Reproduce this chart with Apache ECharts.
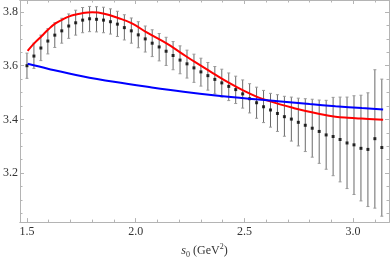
<!DOCTYPE html>
<html>
<head>
<meta charset="utf-8">
<script src="https://cdn.jsdelivr.net/npm/echarts@6/dist/echarts.min.js"></script>
<style>
html,body{margin:0;padding:0;background:#fff;}
#c{width:390px;height:264px;}
</style>
</head>
<body>
<div id="c"></div>
<script>
// ---- data ----
const sx = [1.500,1.532,1.564,1.596,1.628,1.660,1.692,1.724,1.756,1.788,1.820,1.852,1.884,1.916,1.948,1.980,2.012,2.044,2.076,2.108,2.140,2.172,2.204,2.236,2.268,2.300,2.332,2.364,2.396,2.428,2.460,2.492,2.524,2.556,2.588,2.620,2.652,2.684,2.716,2.748,2.780,2.812,2.844,2.876,2.908,2.940,2.972,3.004,3.036,3.068,3.100,3.132];
const mid = [3.600,3.636,3.666,3.692,3.714,3.730,3.748,3.760,3.770,3.775,3.773,3.770,3.764,3.755,3.742,3.730,3.715,3.700,3.684,3.670,3.654,3.638,3.621,3.607,3.592,3.577,3.563,3.549,3.536,3.523,3.511,3.495,3.477,3.462,3.447,3.435,3.422,3.410,3.401,3.389,3.378,3.367,3.355,3.342,3.336,3.325,3.312,3.305,3.292,3.288,3.328,3.295];
const hi = [3.647,3.684,3.714,3.738,3.760,3.777,3.793,3.807,3.817,3.821,3.820,3.818,3.812,3.803,3.790,3.778,3.764,3.748,3.734,3.720,3.706,3.690,3.674,3.658,3.643,3.628,3.612,3.597,3.587,3.573,3.561,3.547,3.533,3.520,3.508,3.497,3.492,3.486,3.483,3.479,3.477,3.475,3.472,3.471,3.482,3.483,3.483,3.488,3.490,3.499,3.585,3.550];
const lo = [3.553,3.590,3.619,3.644,3.668,3.684,3.702,3.714,3.723,3.727,3.726,3.723,3.718,3.709,3.696,3.684,3.667,3.651,3.634,3.618,3.601,3.585,3.570,3.554,3.538,3.524,3.509,3.495,3.483,3.470,3.459,3.442,3.424,3.404,3.388,3.371,3.355,3.337,3.319,3.301,3.280,3.259,3.236,3.214,3.190,3.167,3.142,3.120,3.096,3.075,3.069,3.039];
const redX = [1.503,1.535,1.567,1.599,1.631,1.663,1.695,1.725,1.754,1.800,1.855,1.919,1.983,2.051,2.144,2.208,2.272,2.368,2.430,2.494,2.558,2.607,2.668,2.718,2.782,2.846,2.919,2.975,3.039,3.138];
const redY = [3.655,3.685,3.710,3.736,3.758,3.772,3.784,3.791,3.796,3.799,3.794,3.778,3.758,3.724,3.682,3.648,3.614,3.566,3.536,3.508,3.484,3.470,3.455,3.444,3.431,3.420,3.410,3.406,3.403,3.399];
const blueX = [1.503,1.600,1.754,1.900,2.074,2.220,2.368,2.520,2.668,2.800,2.919,3.040,3.138];
const blueY = [3.607,3.588,3.561,3.540,3.519,3.503,3.489,3.477,3.467,3.457,3.449,3.442,3.437];
const xMajor = [1.5,2.0,2.5,3.0];
const xMinor = [1.6,1.7,1.8,1.9,2.1,2.2,2.3,2.4,2.6,2.7,2.8,2.9,3.1];
const yMajor = [3.2,3.4,3.6,3.8];
const yMinor = [3.05,3.1,3.15,3.25,3.3,3.35,3.45,3.5,3.55,3.65,3.7,3.75];
const xTitle = '{i|s}{sub|0}{t| (GeV}{sup|2}{t|)}';

// ---- chart ----
const X0 = 1.468, X1 = 3.165, Y0 = 3.017, Y1 = 3.845;
const frame = '#b4b4b4';
const lblFont = {fontFamily:'Liberation Serif', fontSize:12, color:'#333'};

function xAx(pos, vals, len, labels){
  return {type:'value', position:pos, min:X0, max:X1,
    axisLine:{show:true, onZero:false, lineStyle:{color:frame, width:1}},
    axisTick:{show:true, inside:true, length:len, customValues:vals, lineStyle:{color:frame}},
    axisLabel: labels ? Object.assign({show:true, customValues:vals, margin:4, formatter:v=>v.toFixed(1)}, lblFont) : {show:false},
    splitLine:{show:false}};
}
function yAx(pos, vals, len, labels){
  return {type:'value', position:pos, min:Y0, max:Y1,
    axisLine:{show:true, onZero:false, lineStyle:{color:frame, width:1}},
    axisTick:{show:true, inside:true, length:len, customValues:vals, lineStyle:{color:frame}},
    axisLabel: labels ? Object.assign({show:true, customValues:vals, margin:2, formatter:v=>v.toFixed(1)}, lblFont) : {show:false},
    splitLine:{show:false}};
}
const xAxes = [xAx('bottom', xMajor, 4, true), xAx('bottom', xMinor, 2.5, false), xAx('top', xMajor, 4, false), xAx('top', xMinor, 2.5, false)];
xAxes[0].name = xTitle;
xAxes[0].nameLocation = 'middle';
xAxes[0].nameGap = 19;
xAxes[0].nameTextStyle = {fontFamily:'Liberation Serif', fontSize:12, color:'#333', rich:{
  i:{fontStyle:'italic', fontFamily:'Liberation Serif', fontSize:12, color:'#333', lineHeight:16},
  t:{fontFamily:'Liberation Serif', fontSize:12, color:'#333', lineHeight:16},
  sub:{fontFamily:'Liberation Serif', fontSize:8, color:'#333', lineHeight:9, verticalAlign:'bottom'},
  sup:{fontFamily:'Liberation Serif', fontSize:8, color:'#333', lineHeight:9, verticalAlign:'top'}
}};
const yAxes = [yAx('left', yMajor, 4, true), yAx('left', yMinor, 2.5, false), yAx('right', yMajor, 4, false), yAx('right', yMinor, 2.5, false)];

const errData = sx.map((x,i)=>[x, lo[i], hi[i]]);
const ptData = sx.map((x,i)=>[x, mid[i]]);
const redData = redX.map((x,i)=>[x, redY[i]]);
const blueData = blueX.map((x,i)=>[x, blueY[i]]);

const chart = echarts.init(document.getElementById('c'), null, {renderer:'canvas'});
chart.setOption({
  animation:false,
  grid:{left:17, right:1, top:0, bottom:35, containLabel:false},
  xAxis: xAxes,
  yAxis: yAxes,
  series:[
    {type:'custom', xAxisIndex:0, yAxisIndex:0, data:errData, z:2,
     encode:{x:0, y:[1,2]},
     renderItem:function(params, api){
       const x = api.value(0);
       const a = api.coord([x, api.value(1)]);
       const b = api.coord([x, api.value(2)]);
       const cw = 1.5;
       const st = {stroke:'#6a6a6a', lineWidth:1};
       const cs = {stroke:'#9a9a9a', lineWidth:1};
       return {type:'group', children:[
         {type:'line', shape:{x1:a[0], y1:a[1], x2:b[0], y2:b[1]}, style:st},
         {type:'line', shape:{x1:a[0]-cw, y1:a[1], x2:a[0]+cw, y2:a[1]}, style:cs},
         {type:'line', shape:{x1:b[0]-cw, y1:b[1], x2:b[0]+cw, y2:b[1]}, style:cs}
       ]};
     }},
    {type:'scatter', xAxisIndex:0, yAxisIndex:0, data:ptData, symbol:'rect', symbolSize:3,
     itemStyle:{color:'#000'}, z:3},
    {type:'line', xAxisIndex:0, yAxisIndex:0, data:redData, smooth:0.4, showSymbol:false,
     lineStyle:{color:'#ff0000', width:2}, z:4},
    {type:'line', xAxisIndex:0, yAxisIndex:0, data:blueData, smooth:0.4, showSymbol:false,
     lineStyle:{color:'#0000ff', width:2}, z:4}
  ]
});
</script>
</body>
</html>
